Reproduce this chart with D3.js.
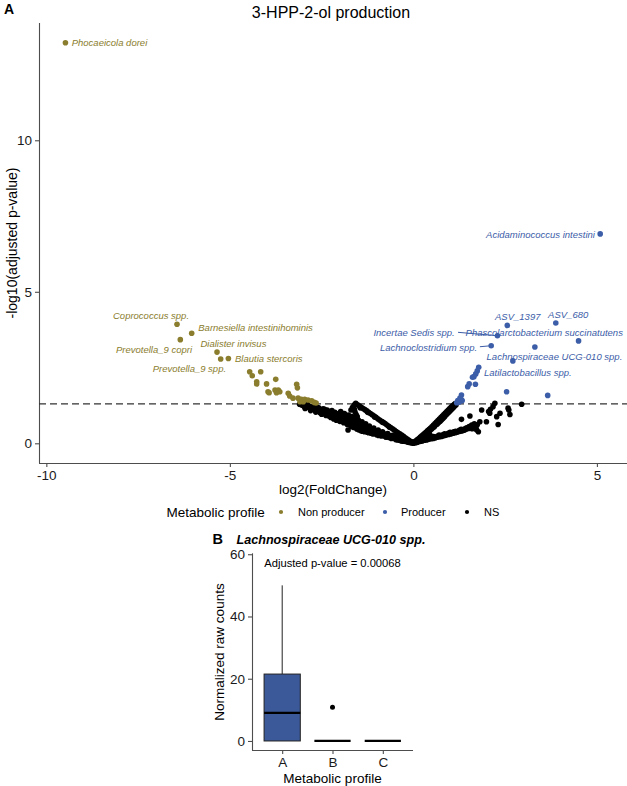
<!DOCTYPE html>
<html><head><meta charset="utf-8">
<script src="https://cdn.jsdelivr.net/npm/d3@7"></script>
<style>
html,body{margin:0;padding:0;background:#fff;}
svg{display:block;font-family:"Liberation Sans",Arial,sans-serif;}
</style></head>
<body><svg id="c" width="627" height="786"></svg>
<script>
// ---------- DATA ----------
const xTicksA = [-10, -5, 0, 5];
const yTicksA = [0, 5, 10];
const threshold = 1.30103; // -log10(0.05)

// Non producer (significant, negative fold change)
const nonProducer = [
  [-9.48,13.22],[-6.44,3.93],[-6.04,3.63],[-6.35,3.42],[-5.35,3.01],[-5.25,2.78],[-5.04,2.80],
  [-4.46,2.36],[-4.39,2.23],[-4.16,2.36],[-4.27,2.03],[-4.27,1.96],[-4.00,1.96],[-3.75,2.11],
  [-3.96,1.70],[-3.93,1.67],[-3.77,1.76],[-3.68,1.76],[-3.64,1.70],[-3.73,1.67],[-3.41,1.65],
  [-3.18,1.95],[-3.16,1.83],[-3.37,1.56],[-3.28,1.49],[-3.14,1.49],[-3.05,1.45],[-2.96,1.45],
  [-2.87,1.43],[-2.77,1.40],[-3.00,1.37],[-3.09,1.37],[-2.70,1.35],[-2.65,1.33]
];
const nonProducerLabels = [
  {i:0, name:"Phocaeicola dorei"},
  {i:1, name:"Coprococcus spp."},
  {i:2, name:"Barnesiella intestinihominis"},
  {i:3, name:"Prevotella_9 copri"},
  {i:4, name:"Dialister invisus"},
  {i:5, name:"Prevotella_9 spp."},
  {i:6, name:"Blautia stercoris"}
];

// Producer (significant, positive fold change)
const producer = [
  [5.09,6.91],[2.56,3.89],[3.88,3.97],[2.29,3.55],[4.50,3.38],[2.12,3.22],[3.31,3.18],[2.71,2.72],
  [1.78,2.51],[1.74,2.39],[1.70,2.29],[1.65,2.20],[1.61,2.18],[1.69,1.95],[1.52,1.96],[1.48,1.87],
  [2.54,1.70],[3.66,1.58],[1.31,1.59],[1.27,1.49],[1.21,1.41],[1.33,1.41],[1.18,1.34],[1.25,1.36],[1.30,1.45]
];
const producerLabels = [
  {i:0, name:"Acidaminococcus intestini"},
  {i:1, name:"ASV_1397"},
  {i:2, name:"ASV_680"},
  {i:3, name:"Incertae Sedis spp."},
  {i:4, name:"Phascolarctobacterium succinatutens"},
  {i:5, name:"Lachnoclostridium spp."},
  {i:6, name:"Lachnospiraceae UCG-010 spp."},
  {i:8, name:"Latilactobacillus spp."}
];

// Not significant
const notSignificant = [
  [-3.10,1.29],[-3.05,1.26],[-3.00,1.28],[-2.98,1.22],[-2.92,1.25],[-2.90,1.19],[-2.85,1.23],[-2.82,1.16],
  [-2.78,1.20],[-2.75,1.12],[-2.70,1.18],[-2.68,1.10],[-2.64,1.14],[-2.60,1.07],[-2.58,1.17],[-2.55,1.02],
  [-2.52,1.10],[-2.48,1.05],[-2.45,0.98],[-2.42,1.12],[-2.40,1.01],[-2.36,0.95],[-2.33,1.06],[-2.30,0.90],
  [-2.28,1.00],[-2.25,0.85],[-2.22,1.08],[-2.20,0.94],[-2.17,0.80],[-2.14,1.02],[-2.12,0.88],[-2.10,0.76],
  [-2.06,0.97],[-2.04,0.84],[-2.00,0.72],[-1.98,1.05],[-1.96,0.91],[-1.94,0.79],[-1.90,0.68],[-1.88,0.98],
  [-1.86,0.86],[-1.84,0.74],[-1.80,0.62],[-1.78,0.44],[-1.77,0.93],[-1.75,0.81],[-1.72,0.69],[-1.70,0.57],
  [-1.68,0.88],[-1.66,0.75],[-1.64,0.63],[-1.62,0.52],[-1.60,0.83],[-1.58,0.70],[-1.56,0.58],[-1.54,0.47],
  [-1.50,0.77],[-1.48,0.64],[-1.46,0.53],[-1.44,0.42],[-1.40,0.71],[-1.38,0.59],[-1.36,0.48],[-1.33,0.38],
  [-1.30,0.64],[-1.28,0.53],[-1.25,0.43],[-1.22,0.35],[-1.20,0.57],[-1.17,0.47],[-1.14,0.39],[-1.10,0.31],
  [-1.08,0.50],[-1.05,0.42],[-1.02,0.35],[-1.00,0.28],[-0.96,0.44],[-0.93,0.37],[-0.90,0.30],[-0.87,0.24],
  [-0.84,0.38],[-0.80,0.31],[-0.77,0.25],[-0.74,0.20],[-0.70,0.32],[-0.67,0.26],[-0.64,0.21],[-0.60,0.16],
  [-0.57,0.26],[-0.54,0.20],[-0.50,0.15],[-0.47,0.12],[-0.44,0.19],[-0.40,0.14],[-0.37,0.10],[-0.33,0.08],
  [-0.30,0.13],[-0.26,0.09],[-0.22,0.06],[-0.18,0.08],[-0.14,0.05],[-0.10,0.03],[-0.06,0.02],[-0.03,0.01],[0.00,0.00],
  [-2.95,1.15],[-2.88,1.28],[-2.80,1.08],[-2.72,1.22],[-2.66,1.03],[-2.62,1.19],[-2.56,1.12],[-2.50,0.96],
  [-2.46,1.14],[-2.38,0.92],[-2.35,1.10],[-2.27,0.95],[-2.24,1.04],[-2.18,0.86],[-2.15,0.98],[-2.08,0.82],
  [-2.02,0.92],[-1.99,0.80],[-1.92,0.86],[-1.89,0.74],[-1.82,0.80],[-1.79,0.68],[-1.74,0.62],[-1.71,0.76],
  [-1.67,0.55],[-1.63,0.70],[-1.57,0.53],[-1.52,0.62],[-1.49,0.45],[-1.42,0.50],[-1.39,0.40],[-1.34,0.56],
  [-1.31,0.45],[-1.26,0.37],[-1.19,0.44],[-1.15,0.33],[-1.12,0.46],[-1.06,0.37],[-0.98,0.32],[-0.95,0.26],
  [-0.88,0.34],[-0.82,0.27],[-0.76,0.22],[-0.72,0.28],[-0.66,0.19],[-0.62,0.24],[-0.55,0.17],[-0.52,0.22],
  [-0.45,0.15],[-0.42,0.11],[-0.35,0.12],[-0.28,0.07],[-0.24,0.11],[-0.16,0.04],[-0.12,0.07],[-0.08,0.04],
  [-1.57,1.32],[-1.52,1.27],[-1.47,1.23],[-1.42,1.19],[-1.37,1.15],[-1.32,1.11],[-1.27,1.07],[-1.22,1.02],
  [-1.17,0.98],[-1.12,0.94],[-1.07,0.90],[-1.02,0.86],[-0.97,0.81],[-0.92,0.77],[-0.87,0.73],[-0.82,0.69],
  [-0.77,0.65],[-0.72,0.60],[-0.67,0.56],[-0.62,0.52],[-0.57,0.48],[-0.52,0.44],[-0.47,0.39],[-0.42,0.35],
  [-0.37,0.31],[-0.32,0.27],[-0.27,0.23],[-0.22,0.18],[-0.17,0.14],[-0.12,0.10],[-0.07,0.06],
  [-1.45,1.17],[-1.25,1.03],[-1.05,0.86],[-0.85,0.70],[-0.65,0.53],[-0.45,0.36],
  [-1.60,1.28],[-1.63,1.22],[-1.61,1.12],[-1.59,1.03],[-1.56,0.95],[-1.53,0.88],[-1.66,1.18],[-1.70,1.10],
  [0.03,0.04],[0.07,0.08],[0.11,0.12],[0.15,0.16],[0.19,0.21],[0.23,0.25],[0.27,0.29],[0.31,0.33],
  [0.35,0.37],[0.39,0.42],[0.43,0.46],[0.47,0.50],[0.51,0.55],[0.55,0.60],[0.59,0.65],[0.63,0.70],
  [0.67,0.75],[0.71,0.80],[0.75,0.85],[0.79,0.90],[0.83,0.95],[0.87,1.00],[0.91,1.05],[0.95,1.10],
  [0.99,1.15],[1.03,1.20],[1.07,1.24],[1.11,1.28],[1.14,1.31],
  [0.09,0.07],[0.17,0.15],[0.25,0.22],[0.33,0.30],[0.41,0.38],[0.49,0.46],[0.57,0.55],[0.65,0.64],
  [0.73,0.73],[0.81,0.83],[0.89,0.93],[0.97,1.03],[1.05,1.13],[1.12,1.22],
  [0.13,0.10],[0.21,0.18],[0.29,0.26],[0.37,0.34],[0.45,0.42],[0.53,0.51],[0.61,0.60],[0.69,0.69],
  [0.77,0.78],[0.85,0.88],[0.93,0.98],[1.01,1.08],[1.09,1.18],[1.16,1.26],
  [0.05,0.02],[0.12,0.04],[0.18,0.06],[0.24,0.08],[0.30,0.10],[0.36,0.11],[0.42,0.13],[0.48,0.15],
  [0.54,0.16],[0.60,0.18],[0.66,0.20],[0.72,0.22],[0.78,0.23],[0.84,0.25],[0.90,0.27],[0.96,0.29],
  [1.02,0.31],[1.08,0.33],[1.14,0.35],[1.20,0.37],[1.26,0.39],[1.32,0.41],[1.38,0.43],[1.44,0.46],
  [1.50,0.49],[1.56,0.52],[1.62,0.55],[1.68,0.58],[1.74,0.61],
  [0.15,0.09],[0.28,0.14],[0.40,0.18],[0.55,0.22],[0.70,0.27],[0.85,0.31],[1.00,0.36],[1.15,0.40],
  [1.30,0.46],[1.45,0.51],[1.60,0.48],[1.66,0.64],
  [0.20,0.08],[0.35,0.13],[0.50,0.19],[0.65,0.23],[0.80,0.28],[0.95,0.33],[1.10,0.38],[1.25,0.43],
  [1.40,0.48],[1.52,0.55],[1.70,0.55],
  [0.10,0.05],[0.20,0.10],[0.30,0.17],[0.38,0.24],[0.22,0.13],[0.45,0.28],[0.05,0.06],[-0.05,0.05],[0.08,0.03],[0.14,0.06],
  [1.31,0.79],[1.54,0.90],[1.59,0.60],[1.77,0.38],[1.81,0.71],[1.86,1.10],[1.99,0.71],[2.08,0.99],
  [2.10,1.12],[2.17,1.21],[2.22,1.32],[2.27,0.88],[2.31,0.62],[2.36,0.99],[2.58,1.16],[2.63,0.95],
  [2.60,1.10],[2.95,1.29],[1.63,0.50],[1.72,0.45],[2.05,1.05]
];

const legendKeys = ["Non producer", "Producer", "NS"];

// Panel B boxplot
const boxCategories = ["A", "B", "C"];
const boxStats = [ // q1, median, q3, whiskerLow, whiskerHigh
  {cat:"A", q1:0, med:9, q3:21.5, lo:0, hi:50},
  {cat:"B", q1:0, med:0, q3:0, lo:0, hi:0},
  {cat:"C", q1:0, med:0, q3:0, lo:0, hi:0}
];
const boxOutliers = [{cat:"B", v:10.8}];
const yTicksB = [0, 20, 40, 60];
const pAdjText = "Adjusted p-value = 0.00068";

// ---------- STYLE / LAYOUT ----------
const OLIVE = "#8a7d2d", BLUE = "#3c5da8", BLACK = "#000";
const BOXFILL = "#3b5898";
const FONT = '"Liberation Sans", Arial, sans-serif';
const AXC = "#4d4d4d";

const nonProducerLabelLayout = [
  {dx:6.3, dy:0.3, anchor:"start"},
  {dx:-64, dy:-8.3, anchor:"start"},
  {dx:6.6, dy:-5.6, anchor:"start"},
  {dx:-64.3, dy:9.6, anchor:"start"},
  {dx:-16.6, dy:-8.7, anchor:"start"},
  {dx:-68, dy:9.7, anchor:"start"},
  {dx:6.6, dy:0.7, anchor:"start"}
];
const producerLabelLayout = [
  {dx:-5.3, dy:0.3, anchor:"end"},
  {dx:-12.3, dy:-8.6, anchor:"start"},
  {dx:-7.7, dy:-8, anchor:"start"},
  {dx:-42.7, dy:-3, anchor:"end", seg:[-39.4,-3.4]},
  {dx:-113, dy:-8.3, anchor:"start"},
  {dx:-14, dy:2, anchor:"end", seg:[-11.3,1]},
  {dx:-48.3, dy:9.4, anchor:"start"},
  {dx:5.3, dy:5, anchor:"start"}
];

const svg = d3.select("#c");

// ---------- PANEL A ----------
const xA = d3.scaleLinear().domain([-10.2, 5.82]).range([39, 627]);
const yA = d3.scaleLinear().domain([-0.65, 13.87]).range([463, 23]);

svg.append("text").attr("x", 4).attr("y", 13.5).attr("font-size", 14).attr("font-weight", "bold").text("A");
svg.append("text").attr("x", 331).attr("y", 18).attr("text-anchor", "middle").attr("font-size", 16).text("3-HPP-2-ol production");

const gxA = svg.append("g").attr("transform", "translate(0,463)")
  .call(d3.axisBottom(xA).tickValues(xTicksA).tickSize(4).tickPadding(3).tickFormat(d3.format("d")));
const gyA = svg.append("g").attr("transform", "translate(39,0)")
  .call(d3.axisLeft(yA).tickValues(yTicksA).tickSize(4).tickPadding(3));
[gxA, gyA].forEach(g => {
  g.select(".domain").attr("stroke", AXC).attr("stroke-width", 1.1);
  g.selectAll(".tick line").attr("stroke", AXC).attr("stroke-width", 1.1);
  g.selectAll(".tick text").attr("fill", "#1a1a1a").attr("font-size", 13.5).attr("font-family", FONT);
});
gxA.select(".domain").attr("d", "M39,0.5H627");
gyA.select(".domain").attr("d", "M0.5,23V463");
gxA.selectAll(".tick text").text(d => d < 0 ? "-" + Math.abs(d) : d);

svg.append("text").attr("x", 333).attr("y", 494).attr("text-anchor", "middle").attr("font-size", 13.5).text("log2(FoldChange)");
svg.append("text").attr("transform", "translate(17,243) rotate(-90)").attr("text-anchor", "middle").attr("font-size", 14).text("-log10(adjusted p-value)");

// threshold dashed line
svg.append("line").attr("x1", 39).attr("x2", 627).attr("y1", yA(threshold)).attr("y2", yA(threshold))
  .attr("stroke", "#333").attr("stroke-width", 1.2).attr("stroke-dasharray", "7,4");

const R = 2.8;
svg.append("g").selectAll("circle").data(notSignificant).join("circle")
  .attr("cx", d => xA(d[0])).attr("cy", d => yA(d[1])).attr("r", R).attr("fill", BLACK);
svg.append("g").selectAll("circle").data(nonProducer).join("circle")
  .attr("cx", d => xA(d[0])).attr("cy", d => yA(d[1])).attr("r", R).attr("fill", OLIVE);
svg.append("g").selectAll("circle").data(producer).join("circle")
  .attr("cx", d => xA(d[0])).attr("cy", d => yA(d[1])).attr("r", R).attr("fill", BLUE);

function drawLabels(pts, labels, layout, color) {
  labels.forEach((l, k) => {
    const p = pts[l.i], L = layout[k];
    const px = xA(p[0]), py = yA(p[1]);
    if (L.seg) {
      svg.append("line").attr("x1", px + L.seg[0]).attr("y1", py + L.seg[1]).attr("x2", px).attr("y2", py)
        .attr("stroke", color).attr("stroke-width", 1);
    }
    svg.append("text").attr("x", px + L.dx).attr("y", py + L.dy).attr("dy", "0.35em")
      .attr("text-anchor", L.anchor).attr("font-size", 9.5).attr("font-style", "italic")
      .attr("fill", color).text(l.name);
  });
}
drawLabels(nonProducer, nonProducerLabels, nonProducerLabelLayout, OLIVE);
drawLabels(producer, producerLabels, producerLabelLayout, BLUE);

// legend
const lg = svg.append("g").attr("transform", "translate(0,512)");
lg.append("text").attr("x", 166.5).attr("dy", "0.35em").attr("font-size", 13.5).text("Metabolic profile");
const keyX = [281, 385, 467], keyTextX = [298, 401, 484], keyCol = [OLIVE, BLUE, BLACK];
legendKeys.forEach((k, i) => {
  lg.append("circle").attr("cx", keyX[i]).attr("cy", 0).attr("r", 2.1).attr("fill", keyCol[i]);
  lg.append("text").attr("x", keyTextX[i]).attr("dy", "0.35em").attr("font-size", 11).text(k);
});

// ---------- PANEL B ----------
const xB = d3.scaleLinear().domain([0.4, 3.6]).range([252, 413]);
const yB = d3.scaleLinear().domain([-2.9, 60.3]).range([750, 553.3]);
const pos = c => boxCategories.indexOf(c) + 1;

svg.append("text").attr("x", 212.5).attr("y", 544).attr("font-size", 14.5).attr("font-weight", "bold").text("B");
svg.append("text").attr("x", 236.5).attr("y", 543.5).attr("font-size", 12.6).attr("font-weight", "bold")
  .attr("font-style", "italic").text("Lachnospiraceae UCG-010 spp.");

const gxB = svg.append("g").attr("transform", "translate(0,750)")
  .call(d3.axisBottom(xB).tickValues([1, 2, 3]).tickSize(4).tickPadding(3).tickFormat(d => boxCategories[d - 1]));
const gyB = svg.append("g").attr("transform", "translate(252,0)")
  .call(d3.axisLeft(yB).tickValues(yTicksB).tickSize(4).tickPadding(3));
[gxB, gyB].forEach(g => {
  g.select(".domain").attr("stroke", AXC).attr("stroke-width", 1.1);
  g.selectAll(".tick line").attr("stroke", AXC).attr("stroke-width", 1.1);
  g.selectAll(".tick text").attr("fill", "#1a1a1a").attr("font-size", 13.5).attr("font-family", FONT);
});
gxB.select(".domain").attr("d", "M252,0.5H413");
gyB.select(".domain").attr("d", "M0.5,553.3V750");

svg.append("text").attr("x", 332.5).attr("y", 783).attr("text-anchor", "middle").attr("font-size", 13.5).text("Metabolic profile");
svg.append("text").attr("transform", "translate(224,652) rotate(-90)").attr("text-anchor", "middle").attr("font-size", 13.5).text("Normalized raw counts");
svg.append("text").attr("x", 332.5).attr("y", 562.7).attr("dy", "0.35em").attr("text-anchor", "middle").attr("font-size", 11.2).text(pAdjText);

const half = 0.36;
const bg = svg.append("g");
boxStats.forEach(s => {
  const c = pos(s.cat);
  if (s.hi > s.q3) bg.append("line").attr("x1", xB(c)).attr("x2", xB(c)).attr("y1", yB(s.q3)).attr("y2", yB(s.hi)).attr("stroke", "#222").attr("stroke-width", 1);
  if (s.q3 > s.q1) bg.append("rect").attr("x", xB(c - half)).attr("width", xB(c + half) - xB(c - half))
    .attr("y", yB(s.q3)).attr("height", yB(s.q1) - yB(s.q3)).attr("fill", BOXFILL).attr("stroke", "#222").attr("stroke-width", 1);
  bg.append("line").attr("x1", xB(c - half)).attr("x2", xB(c + half)).attr("y1", yB(s.med)).attr("y2", yB(s.med))
    .attr("stroke", "#000").attr("stroke-width", 2.2);
});
bg.selectAll("circle").data(boxOutliers).join("circle")
  .attr("cx", d => xB(pos(d.cat))).attr("cy", d => yB(d.v)).attr("r", 2.5).attr("fill", "#000");
</script></body></html>
